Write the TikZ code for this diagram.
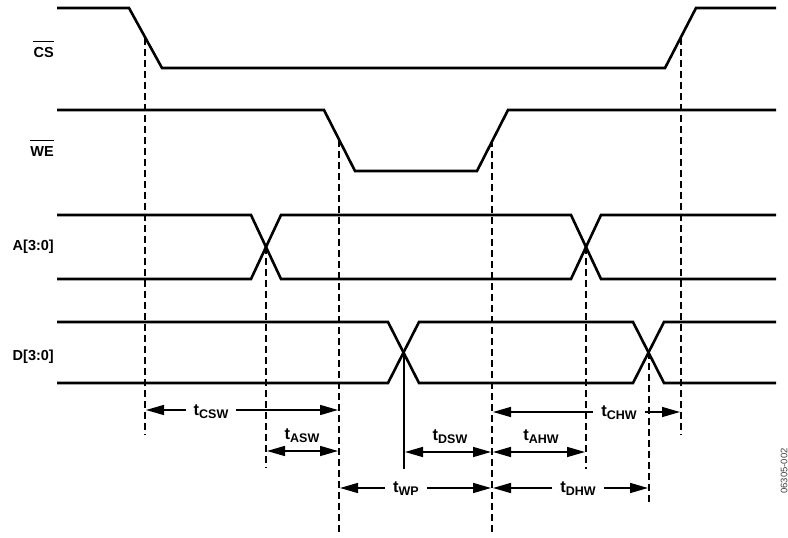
\documentclass[tikz,border=0pt]{standalone}
\usepackage{fontspec}
\setmainfont{Liberation Sans}
\usetikzlibrary{arrows.meta}
\begin{document}
\begin{tikzpicture}[x=1pt,y=-1pt,
  sig/.style={line width=2.6pt, line join=miter},
  guide/.style={line width=1.2pt, dash pattern=on 7pt off 4pt},
  solidguide/.style={line width=1.2pt},
  dim/.style={line width=1.5pt, -{Triangle[length=18pt,width=10pt]}},
  dimboth/.style={line width=1.5pt, {Triangle[length=18pt,width=10pt]}-{Triangle[length=18pt,width=10pt]}},
  lbl/.style={font=\bfseries\fontsize{14.5}{16}\selectfont, anchor=base east, inner sep=0pt},
  bar/.style={line width=1.3pt},
  tlbl/.style={font=\bfseries\fontsize{16.5}{18}\selectfont, inner sep=0pt, outer xsep=8pt},
  tlblab/.style={font=\bfseries\fontsize{16.5}{18}\selectfont, inner sep=0pt}]
\useasboundingbox (0,0) rectangle (788,538);
\newcommand{\tsub}[1]{t\raisebox{-3pt}{\fontsize{12.5}{13}\selectfont #1}}

% signals
\draw[sig] (57,8) -- (129,8) -- (162,68) -- (665,68) -- (696,8) -- (776,8);
\draw[sig] (57,110) -- (324,110) -- (355,171) -- (477,171) -- (508,110) -- (776,110);
\draw[sig] (57,215) -- (251,215) -- (281,279) -- (571,279) -- (601,215) -- (776,215);
\draw[sig] (57,279) -- (251,279) -- (281,215) -- (571,215) -- (601,279) -- (776,279);
\draw[sig] (57,322) -- (388,322) -- (419,383) -- (633,383) -- (664,322) -- (776,322);
\draw[sig] (57,383) -- (388,383) -- (419,322) -- (633,322) -- (664,383) -- (776,383);

% signal names
\node[lbl] (cs) at (54,57) {CS};
\draw[bar] ([yshift=5pt]cs.north west) -- ([yshift=5pt]cs.north east);
\node[lbl] (we) at (54,156) {WE};
\draw[bar] ([yshift=5pt]we.north west) -- ([yshift=5pt]we.north east);
\node[lbl] (a) at (54,250) {A[3:0]};
\node[lbl] (d) at (54,360) {D[3:0]};

% guide lines
\coordinate (g1t) at (145,38);  \coordinate (g1b) at (145,435);
\coordinate (g2t) at (681,38);  \coordinate (g2b) at (681,435);
\coordinate (g3t) at (339,140); \coordinate (g3b) at (339,535);
\coordinate (g4t) at (492,140); \coordinate (g4b) at (492,535);
\coordinate (g5t) at (266,247); \coordinate (g5b) at (266,468);
\coordinate (g6t) at (586,247); \coordinate (g6b) at (586,469);
\coordinate (g7t) at (404,352); \coordinate (g7b) at (404,469);
\coordinate (g8t) at (649,352); \coordinate (g8b) at (649,502);
\draw[guide] (g1t) -- (g1b);
\draw[guide] (g2t) -- (g2b);
\draw[guide] (g3t) -- (g3b);
\draw[guide] (g4t) -- (g4b);
\draw[guide] (g5t) -- (g5b);
\draw[guide] (g6t) -- (g6b);
\draw[solidguide] (g7t) -- (g7b);
\draw[guide] (g8t) -- (g8b);

% tCSW
\coordinate (cswL) at (146,410); \coordinate (cswR) at (338,410);
\node[tlbl] (lcsw) at (211,412) {\tsub{CSW}};
\draw[dim] (lcsw.west |- cswL) -- (cswL);
\draw[dim] (lcsw.east |- cswR) -- (cswR);

% tASW
\coordinate (aswL) at (267,451); \coordinate (aswR) at (338,451);
\draw[dimboth] (aswL) -- (aswR);
\node[tlblab] (lasw) at (302,436) {\tsub{ASW}};

% tWP
\coordinate (wpL) at (340,488); \coordinate (wpR) at (491,488);
\node[tlbl] (lwp) at (406,489) {\tsub{WP}};
\draw[dim] (lwp.west |- wpL) -- (wpL);
\draw[dim] (lwp.east |- wpR) -- (wpR);

% tDSW
\coordinate (dswL) at (405,452); \coordinate (dswR) at (491,452);
\draw[dimboth] (dswL) -- (dswR);
\node[tlblab] (ldsw) at (450,437) {\tsub{DSW}};

% tAHW
\coordinate (ahwL) at (493,452); \coordinate (ahwR) at (585,452);
\draw[dimboth] (ahwL) -- (ahwR);
\node[tlblab] (lahw) at (541,437) {\tsub{AHW}};

% tCHW
\coordinate (chwL) at (493,412); \coordinate (chwR) at (680,412);
\node[tlbl] (lchw) at (619,413) {\tsub{CHW}};
\draw[dim] (lchw.west |- chwL) -- (chwL);
\draw[dim] (lchw.east |- chwR) -- (chwR);

% tDHW
\coordinate (dhwL) at (493,488); \coordinate (dhwR) at (648,488);
\node[tlbl] (ldhw) at (578,489) {\tsub{DHW}};
\draw[dim] (ldhw.west |- dhwL) -- (dhwL);
\draw[dim] (ldhw.east |- dhwR) -- (dhwR);

% figure id
\node[rotate=90, font=\fontsize{9.5}{10}\selectfont, text=black!75, inner sep=0pt] (fid) at (784,471) {06305-002};
\end{tikzpicture}
\end{document}
